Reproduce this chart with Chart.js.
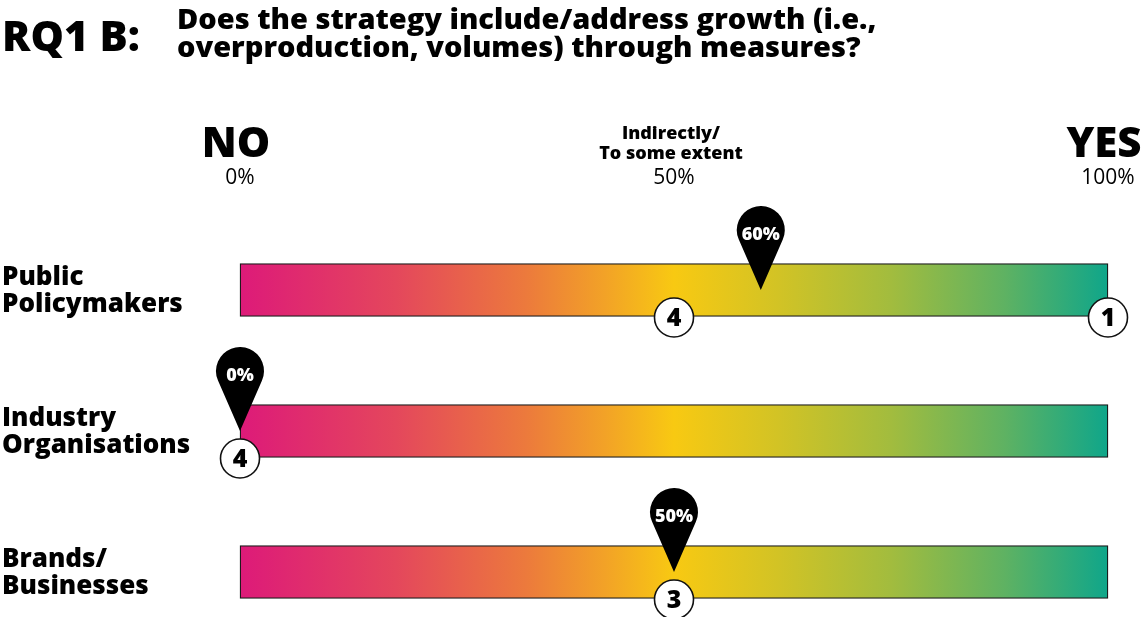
<!DOCTYPE html>
<html>
<head>
<meta charset="utf-8">
<script src="https://cdn.jsdelivr.net/npm/chart.js@4"></script>
<style>
  html, body { margin: 0; padding: 0; background: #ffffff; }
  #wrap { position: relative; width: 1145px; height: 617px; }
</style>
</head>
<body>
<div id="wrap"><canvas id="chart" width="1145" height="617"></canvas></div>
<script>
// Stakeholder groups (one gradient bar each)
const categories = ['Public Policymakers', 'Industry Organisations', 'Brands/ Businesses'];
const categoryLines = [['Public', 'Policymakers'], ['Industry', 'Organisations'], ['Brands/', 'Businesses']];

// Average score per group (shown on the pin)
const scores = [60, 0, 50];

// Number of strategies at each scale position, per group
const countPositions = [[50, 100], [0], [50]];
const countValues = [[4, 1], [4], [3]];

// Scale endpoints and the header labels above the bars
const scaleMin = 0;
const scaleMax = 100;
const scaleTicks = [0, 50, 100];
const scaleTickLabels = ['0%', '50%', '100%'];
const scaleHeadings = [['NO'], ['Indirectly/', 'To some extent'], ['YES']];

const titleTag = 'RQ1 B:';
const titleLines = ['Does the strategy include/address growth (i.e.,', 'overproduction, volumes) through measures?'];

const FONT = '"Open Sans", "DejaVu Sans", sans-serif';
const HEAVY = '800 ';

function barGradient(ctx, area) {
  const g = ctx.createLinearGradient(area.left, 0, area.right, 0);
  g.addColorStop(0.00, '#DD1A79');
  g.addColorStop(0.18, '#E4475C');
  g.addColorStop(0.33, '#EC7A3C');
  g.addColorStop(0.42, '#F2A227');
  g.addColorStop(0.50, '#F8C912');
  g.addColorStop(0.62, '#D2C325');
  g.addColorStop(0.75, '#A2BC3E');
  g.addColorStop(0.88, '#5FB262');
  g.addColorStop(1.00, '#0FA68A');
  return g;
}

function drawPin(ctx, x, tipY, label) {
  const r = 24;
  const cy = tipY - 60;
  const d = tipY - cy;
  const a = Math.acos(r / d);
  ctx.save();
  ctx.beginPath();
  ctx.moveTo(x, tipY);
  ctx.lineTo(x + r * Math.cos(Math.PI / 2 - a), cy + r * Math.sin(Math.PI / 2 - a));
  ctx.arc(x, cy, r, Math.PI / 2 - a, Math.PI / 2 + a, true);
  ctx.closePath();
  ctx.fillStyle = '#000000';
  ctx.fill();
  ctx.fillStyle = '#ffffff';
  ctx.font = HEAVY + '18px ' + FONT;
  ctx.textAlign = 'center';
  ctx.textBaseline = 'middle';
  ctx.fillText(label, x, cy + 5);
  ctx.restore();
}

function drawCount(ctx, x, y, n) {
  ctx.save();
  ctx.beginPath();
  ctx.arc(x, y, 19.5, 0, Math.PI * 2);
  ctx.fillStyle = '#ffffff';
  ctx.fill();
  ctx.lineWidth = 1.6;
  ctx.strokeStyle = '#111111';
  ctx.stroke();
  ctx.fillStyle = '#000000';
  ctx.font = HEAVY + '25px ' + FONT;
  ctx.textAlign = 'center';
  ctx.textBaseline = 'middle';
  ctx.fillText(String(n), x, y + 1);
  ctx.restore();
}

const decorations = {
  id: 'decorations',
  afterDatasetsDraw(chart) {
    const ctx = chart.ctx;
    const xs = chart.scales.x;
    const ys = chart.scales.y;
    const meta = chart.getDatasetMeta(0);

    // Title
    ctx.save();
    ctx.fillStyle = '#000000';
    ctx.textBaseline = 'alphabetic';
    ctx.textAlign = 'left';
    ctx.font = HEAVY + '42px ' + FONT;
    ctx.fillText(titleTag, 2, 51);
    ctx.font = HEAVY + '29px ' + FONT;
    ctx.fillText(titleLines[0], 177, 29);
    ctx.fillText(titleLines[1], 177, 57);

    // Scale headings and percentages
    scaleTicks.forEach((v, i) => {
      const x = xs.getPixelForValue(v);
      ctx.textAlign = 'center';
      const head = scaleHeadings[i];
      if (head.length === 1) {
        ctx.font = HEAVY + '42px ' + FONT;
        const w = ctx.measureText(head[0]).width;
        let hx = x - 4;
        if (hx + w / 2 > chart.width - 2) hx = chart.width - 2 - w / 2;
        ctx.fillText(head[0], hx, 157);
      } else {
        ctx.font = HEAVY + '18px ' + FONT;
        ctx.fillText(head[0], x - 3, 139);
        ctx.fillText(head[1], x - 3, 159);
      }
      ctx.font = '21px ' + FONT;
      ctx.fillText(scaleTickLabels[i], x, 184);
    });

    // Group labels
    ctx.textAlign = 'left';
    ctx.textBaseline = 'middle';
    ctx.font = HEAVY + '26px ' + FONT;
    categoryLines.forEach((lines, i) => {
      const y = ys.getPixelForValue(i);
      ctx.fillText(lines[0], 2, y - 12);
      ctx.fillText(lines[1], 2, y + 15);
    });
    ctx.restore();

    // Count markers on the lower edge of each bar
    categories.forEach((c, i) => {
      const bar = meta.data[i];
      const bottom = bar.y + bar.height / 2;
      countPositions[i].forEach((p, j) => {
        drawCount(ctx, xs.getPixelForValue(p), bottom + 1, countValues[i][j]);
      });
    });

    // Score pins
    scores.forEach((s, i) => {
      drawPin(ctx, xs.getPixelForValue(s), ys.getPixelForValue(i), s + '%');
    });
  }
};

new Chart(document.getElementById('chart'), {
  type: 'bar',
  data: {
    labels: categories,
    datasets: [{
      data: categories.map(() => [scaleMin, scaleMax]),
      backgroundColor: (c) => {
        const area = c.chart.chartArea;
        if (!area) return '#F8C912';
        return barGradient(c.chart.ctx, area);
      },
      borderColor: '#1a1a1a',
      borderWidth: 1.3,
      borderSkipped: false,
      barThickness: 53,
      clip: false
    }]
  },
  options: {
    indexAxis: 'y',
    responsive: false,
    animation: false,
    layout: { padding: { top: 290, bottom: 45, left: 240, right: 37 } },
    plugins: { legend: { display: false }, tooltip: { enabled: false } },
    scales: {
      x: { type: 'linear', min: scaleMin, max: scaleMax, display: false },
      y: { type: 'category', offset: false, display: false }
    }
  },
  plugins: [decorations]
});
</script>
</body>
</html>
